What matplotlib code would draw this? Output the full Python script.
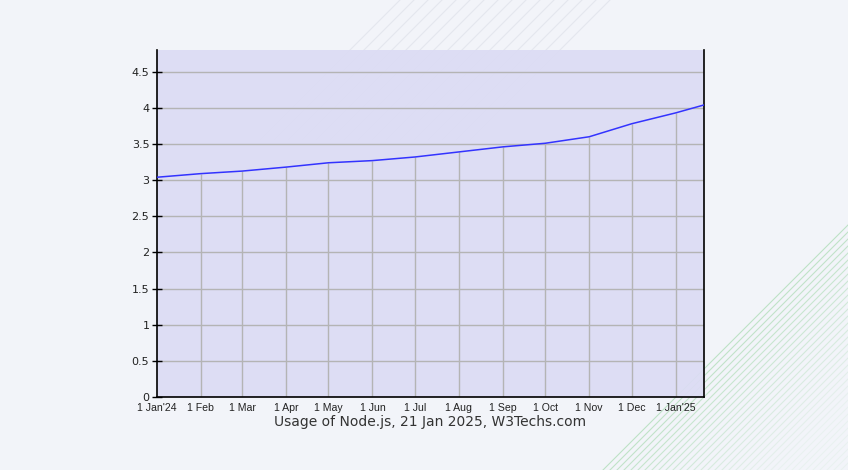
import numpy as np
import matplotlib
matplotlib.use("Agg")
import matplotlib.pyplot as plt
from datetime import date

# usage of Node.js (% of websites)
dates = [date(2024, 1, 1), date(2024, 2, 1), date(2024, 3, 1), date(2024, 4, 1),
         date(2024, 5, 1), date(2024, 6, 1), date(2024, 7, 1), date(2024, 8, 1),
         date(2024, 9, 1), date(2024, 10, 1), date(2024, 11, 1), date(2024, 12, 1),
         date(2025, 1, 1), date(2025, 1, 21)]
usage = [3.04, 3.09, 3.125, 3.18, 3.24, 3.27, 3.32, 3.39,
         3.46, 3.51, 3.60, 3.78, 3.93, 4.04]

tick_dates = dates[:13]
tick_labels = ["1 Jan'24", "1 Feb", "1 Mar", "1 Apr", "1 May", "1 Jun", "1 Jul",
               "1 Aug", "1 Sep", "1 Oct", "1 Nov", "1 Dec", "1 Jan'25"]
y_ticks = [0, 0.5, 1, 1.5, 2, 2.5, 3, 3.5, 4, 4.5]
y_labels = ["0", "0.5", "1", "1.5", "2", "2.5", "3", "3.5", "4", "4.5"]

W, H = 848, 470
fig = plt.figure(figsize=(W / 100, H / 100), dpi=100)
fig.patch.set_facecolor("#f2f4f9")

# decorative background stripes
bg = fig.add_axes([0, 0, 1, 1], zorder=0)
bg.set_xlim(0, W)
bg.set_ylim(H, 0)
bg.axis("off")
for i in range(40):
    x0 = 848 + i * 7
    bg.plot([x0 - 300, x0], [225 + 300, 225], color="#b8e0c0",
            lw=0.8, alpha=max(0.15, 0.9 - i * 0.03))
for i in range(16):
    x0 = 400 + i * 14
    bg.plot([x0 - 140, x0], [140, 0], color="#d6dae4", lw=0.8, alpha=0.5)

ax = fig.add_axes([157 / W, 73 / H, 547 / W, 347 / H], zorder=1)
ax.set_facecolor((0.863, 0.863, 0.957, 0.93))

# horizontal grid across, vertical grid only up to the curve
ax.grid(True, axis="y", color="#b4b4b4", lw=1.0)
ax.vlines(tick_dates[1:], 0, usage[1:13], color="#b4b4b4", lw=1.0, zorder=2)
ax.set_axisbelow(True)

ax.plot(dates, usage, color="#3333ff", lw=1.1, zorder=3)

ax.set_xlim(date(2024, 1, 1), date(2025, 1, 21))
ax.set_ylim(0, 4.8)

ax.set_xticks(tick_dates)
ax.set_xticklabels(tick_labels, fontsize=7.6, color="#222222",
                   family=["Liberation Sans", "DejaVu Sans"])
ax.set_yticks(y_ticks)
ax.set_yticklabels(y_labels, fontsize=8, color="#222222")

ax.tick_params(axis="x", length=0, pad=4)
ax.tick_params(axis="y", direction="inout", length=7, width=1, pad=2)

for s in ["left", "bottom", "right"]:
    ax.spines[s].set_color("#000000")
    ax.spines[s].set_linewidth(1.2)
ax.spines["top"].set_visible(False)

fig.text(430 / W, 1 - 422 / H, "Usage of Node.js, 21 Jan 2025, W3Techs.com",
         ha="center", va="center", fontsize=10, color="#333333")

fig.savefig("out.png", dpi=100, facecolor=fig.get_facecolor())
